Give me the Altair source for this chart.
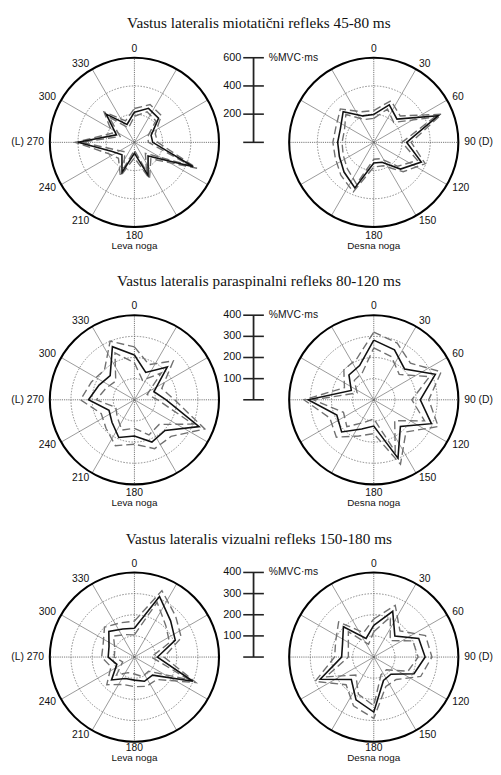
import altair as alt
import pandas as pd

# ---------------- data ----------------
ANGLES = [0, 22.5, 45, 67.5, 90, 112.5, 135, 157.5, 180, 202.5, 225, 247.5, 270, 292.5, 315, 337.5]

# Row 1 - miotaticni refleks (full scale 600 %MVC*ms)
r1_left_mean = [214, 261, 242, 128, 130, 452, 137, 253, 77, 230, 125, 170, 400, 138, 283, 137]
r1_left_upper = [240, 290, 270, 160, 165, 480, 165, 280, 110, 260, 160, 205, 420, 170, 305, 165]
r1_left_lower = [185, 235, 215, 100, 100, 425, 110, 225, 55, 200, 95, 140, 375, 110, 255, 110]
r1_right_mean = [198, 288, 233, 495, 233, 365, 268, 153, 147, 350, 298, 264, 256, 256, 307, 203]
r1_right_upper = [225, 320, 265, 520, 265, 395, 295, 180, 175, 380, 330, 295, 290, 290, 335, 235]
r1_right_lower = [170, 255, 200, 465, 200, 335, 240, 125, 120, 320, 265, 235, 225, 225, 280, 175]

# Row 2 - paraspinalni refleks (full scale 400)
r2_left_mean = [212, 140, 220, 100, 150, 331, 205, 216, 171, 193, 150, 130, 217, 181, 162, 272]
r2_left_upper = [250, 180, 260, 140, 190, 360, 245, 250, 210, 235, 190, 170, 255, 220, 200, 300]
r2_left_lower = [175, 100, 180, 65, 110, 300, 165, 180, 135, 155, 115, 95, 180, 145, 125, 240]
r2_right_mean = [282, 256, 206, 315, 220, 295, 178, 299, 124, 149, 215, 189, 310, 115, 166, 175]
r2_right_upper = [320, 290, 245, 345, 260, 330, 215, 330, 160, 185, 250, 225, 330, 150, 200, 210]
r2_right_lower = [245, 220, 170, 285, 180, 260, 140, 265, 90, 115, 180, 155, 285, 85, 130, 140]

# Row 3 - vizualni refleks (full scale 400)
r3_left_mean = [136, 310, 242, 209, 109, 299, 121, 124, 109, 110, 153, 90, 124, 130, 171, 144]
r3_left_upper = [170, 340, 275, 240, 140, 315, 150, 150, 140, 140, 185, 120, 155, 160, 200, 175]
r3_left_lower = [105, 280, 210, 180, 80, 280, 95, 100, 80, 80, 120, 60, 95, 100, 140, 115]
r3_right_mean = [150, 234, 141, 230, 243, 206, 115, 120, 260, 219, 150, 274, 152, 160, 203, 95]
r3_right_upper = [180, 265, 175, 265, 275, 240, 150, 150, 290, 250, 185, 300, 185, 195, 235, 125]
r3_right_lower = [120, 205, 110, 200, 210, 175, 85, 90, 230, 190, 120, 245, 120, 130, 170, 65]

TITLES = [
    "Vastus lateralis miotatični refleks 45-80 ms",
    "Vastus lateralis paraspinalni refleks 80-120 ms",
    "Vastus lateralis vizualni refleks 150-180 ms",
]
FULL_SCALE = [600, 400, 400]
RING_VALUES = [[200, 400], [100, 200, 300], [100, 200, 300]]
BAR_TICKS = [[0, 200, 400, 600], [0, 100, 200, 300, 400], [0, 100, 200, 300, 400]]
BAR_TICK_LABELS = [["", "200", "400", "600"], ["", "100", "200", "300", "400"], ["", "100", "200", "300", "400"]]
UNIT = "%MVC·ms"
LEFT_LABEL_ANGLES = [0, 330, 300, 270, 240, 210, 180]
LEFT_LABELS = ["0", "330", "300", "(L) 270", "240", "210", "180"]
RIGHT_LABEL_ANGLES = [0, 30, 60, 90, 120, 150, 180]
RIGHT_LABELS = ["0", "30", "60", "90 (D)", "120", "150", "180"]
LEG_NAMES = ["Leva noga", "Desna noga"]
SPOKE_ANGLES = [0, 30, 60, 90, 120, 150, 180, 210, 240, 270, 300, 330]

# ---------------- layout (chart pixel space) ----------------
W, H = 493, 759
R = 86
ROW_CY = [130.3, 392, 653.5]
SIDE_CX = [128.5, 371.8]
BAR_X = 249.6
TITLE_Y = [9.5, 271.5, 533.5]
TITLE_X = 255
BOTTOM_DY = [95, 95, 92]      # offset of the "180" label below centre
LEG_Y = [130.3 + 105, 392 + 105, 756.2]

series = {
    (0, 0): (r1_left_mean, r1_left_upper, r1_left_lower),
    (0, 1): (r1_right_mean, r1_right_upper, r1_right_lower),
    (1, 0): (r2_left_mean, r2_left_upper, r2_left_lower),
    (1, 1): (r2_right_mean, r2_right_upper, r2_right_lower),
    (2, 0): (r3_left_mean, r3_left_upper, r3_left_lower),
    (2, 1): (r3_right_mean, r3_right_upper, r3_right_lower),
}

poly_rows = []
for (row, side), triple in series.items():
    for name, vals in zip(["mean", "upper", "lower"], triple):
        n = len(ANGLES)
        for i in range(n + 1):
            poly_rows.append(dict(panel=f"{row}-{side}", series=name, idx=i,
                                  angle=ANGLES[i % n], value=vals[i % n],
                                  cx=SIDE_CX[side], cy=ROW_CY[row], full=FULL_SCALE[row]))
poly = pd.DataFrame(poly_rows)

ring_rows, spoke_rows, outer_rows, lab_rows = [], [], [], []
for row in range(3):
    for side in range(2):
        cx, cy, full = SIDE_CX[side], ROW_CY[row], FULL_SCALE[row]
        for v in RING_VALUES[row]:
            ring_rows.append(dict(cx=cx, cy=cy, value=v, full=full))
        outer_rows.append(dict(cx=cx, cy=cy, value=full, full=full))
        for a in SPOKE_ANGLES:
            spoke_rows.append(dict(cx=cx, cy=cy, angle=a, axis=(a % 90 == 0)))
        angs, labs = (LEFT_LABEL_ANGLES, LEFT_LABELS) if side == 0 else (RIGHT_LABEL_ANGLES, RIGHT_LABELS)
        for a, t in zip(angs, labs):
            if a in (0, 180):
                al = "center"
            elif side == 0:
                al = "right"
            else:
                al = "left"
            lab_rows.append(dict(cx=cx, cy=cy, angle=a, text=t, align=al,
                                 cdy=(95 if a == 0 else BOTTOM_DY[row])))
rings = pd.DataFrame(ring_rows)
outer = pd.DataFrame(outer_rows)
spokes = pd.DataFrame(spoke_rows)
labels = pd.DataFrame(lab_rows)
legs = pd.DataFrame([dict(cx=SIDE_CX[s], ly=LEG_Y[r], text=LEG_NAMES[s])
                     for r in range(3) for s in range(2)])

bar_rows = []
for row in range(3):
    for t, tl in zip(BAR_TICKS[row], BAR_TICK_LABELS[row]):
        bar_rows.append(dict(cy=ROW_CY[row], full=FULL_SCALE[row], tick=t, text=tl))
bars = pd.DataFrame(bar_rows)
bar_axis = pd.DataFrame([dict(cy=ROW_CY[r], full=FULL_SCALE[r], unit=UNIT) for r in range(3)])
titles = pd.DataFrame([dict(text=TITLES[r], ty=TITLE_Y[r]) for r in range(3)])

# ---------------- encodings ----------------
xs = alt.Scale(domain=[0, W], nice=False, zero=False)
ys = alt.Scale(domain=[0, H], nice=False, zero=False, reverse=True)
X = lambda f: alt.X(f"{f}:Q", scale=xs, axis=None)
Y = lambda f: alt.Y(f"{f}:Q", scale=ys, axis=None)
X2 = lambda f: alt.X2(f"{f}:Q")
Y2 = lambda f: alt.Y2(f"{f}:Q")

RAD = "PI/180"

def polar(chart):
    return chart.transform_calculate(
        px=f"datum.cx + {R}*datum.value/datum.full*sin(datum.angle*{RAD})",
        py=f"datum.cy - {R}*datum.value/datum.full*cos(datum.angle*{RAD})",
    )

ring_layer = alt.Chart(rings).mark_point(shape="circle", filled=False, stroke="#6a6a6a",
                                         strokeWidth=0.8, strokeDash=[1.5, 1.5], opacity=1).transform_calculate(
    sz=f"pow(2*{R}*datum.value/datum.full, 2)").encode(
    x=X("cx"), y=Y("cy"), size=alt.Size("sz:Q", scale=None, legend=None))

outer_layer = alt.Chart(outer).mark_point(shape="circle", filled=False, stroke="#000",
                                          strokeWidth=2.1, opacity=1).transform_calculate(
    sz=f"pow(2*{R}*datum.value/datum.full, 2)").encode(
    x=X("cx"), y=Y("cy"), size=alt.Size("sz:Q", scale=None, legend=None))

spoke_base = alt.Chart(spokes).transform_calculate(
    x2=f"datum.cx + {R}*sin(datum.angle*{RAD})",
    y2=f"datum.cy - {R}*cos(datum.angle*{RAD})")
spoke_diag = spoke_base.transform_filter("!datum.axis").mark_rule(
    stroke="#555", strokeWidth=0.6).encode(x=X("cx"), y=Y("cy"), x2=X2("x2"), y2=Y2("y2"))
spoke_axis = spoke_base.transform_filter("datum.axis").mark_rule(
    stroke="#666", strokeWidth=0.9, strokeDash=[1.2, 1]).encode(x=X("cx"), y=Y("cy"), x2=X2("x2"), y2=Y2("y2"))

sd_layer = polar(alt.Chart(poly)).transform_filter("datum.series != 'mean'").mark_line(
    stroke="#707070", strokeWidth=1.4, strokeDash=[8, 4]).encode(
    x=X("px"), y=Y("py"), detail=["panel:N", "series:N"], order=alt.Order("idx:Q"))
mean_layer = polar(alt.Chart(poly)).transform_filter("datum.series == 'mean'").mark_line(
    stroke="#111", strokeWidth=1.6).encode(
    x=X("px"), y=Y("py"), detail="panel:N", order=alt.Order("idx:Q"))

LAB_R = 92
lab_base = alt.Chart(labels).transform_calculate(
    lx=f"datum.cx + (datum.align=='center' ? 0 : {LAB_R}*sin(datum.angle*{RAD}))",
    ly=f"datum.cy - (datum.align=='center' ? datum.cdy : {LAB_R})*cos(datum.angle*{RAD})")
lab_layers = [
    lab_base.transform_filter(f"datum.align=='{al}'").mark_text(
        align=al, baseline="middle", font="Liberation Sans", fontSize=10.5, color="#111").encode(
        x=X("lx"), y=Y("ly"), text="text:N")
    for al in ["center", "left", "right"]
]
leg_layer = alt.Chart(legs).mark_text(
    align="center", baseline="middle", font="Liberation Sans", fontSize=10, color="#111").encode(
    x=X("cx"), y=Y("ly"), text="text:N")

bar_base = alt.Chart(bars).transform_calculate(
    by=f"datum.cy - {R}*datum.tick/datum.full",
    bx=f"{BAR_X}", t1=f"{BAR_X - 10.5}", t2=f"{BAR_X + 10.5}", tl=f"{BAR_X - 12.5}")
bar_ticks = bar_base.mark_rule(stroke="#222", strokeWidth=1.6).encode(
    x=X("t1"), x2=X2("t2"), y=Y("by"))
bar_tick_text = bar_base.mark_text(align="right", baseline="middle", font="Liberation Sans",
                                   fontSize=11, color="#111").encode(x=X("tl"), y=Y("by"), text="text:N")
bar_vert = alt.Chart(bar_axis).transform_calculate(
    bx=f"{BAR_X}", ytop=f"datum.cy - {R}").mark_rule(stroke="#222", strokeWidth=1.8).encode(
    x=X("bx"), y=Y("cy"), y2=Y2("ytop"))
bar_unit = alt.Chart(bar_axis).transform_calculate(
    ux=f"{BAR_X + 15.5}", uy=f"datum.cy - {R}").mark_text(
    align="left", baseline="middle", font="Liberation Sans", fontSize=10.5, color="#111").encode(
    x=X("ux"), y=Y("uy"), text="unit:N")

title_layer = alt.Chart(titles).transform_calculate(tx=f"{TITLE_X}").mark_text(
    align="center", baseline="middle", font="Liberation Serif", fontSize=15.5, color="#111").encode(
    x=X("tx"), y=Y("ty"), text="text:N")

chart = alt.layer(
    ring_layer, spoke_diag, spoke_axis, outer_layer, sd_layer, mean_layer,
    *lab_layers, leg_layer, bar_vert, bar_ticks, bar_tick_text, bar_unit, title_layer,
).properties(width=W, height=H, padding=0, autosize="none", background="white").configure_view(stroke=None)

chart.save("out.html", embed_options={"renderer": "svg", "actions": False})
